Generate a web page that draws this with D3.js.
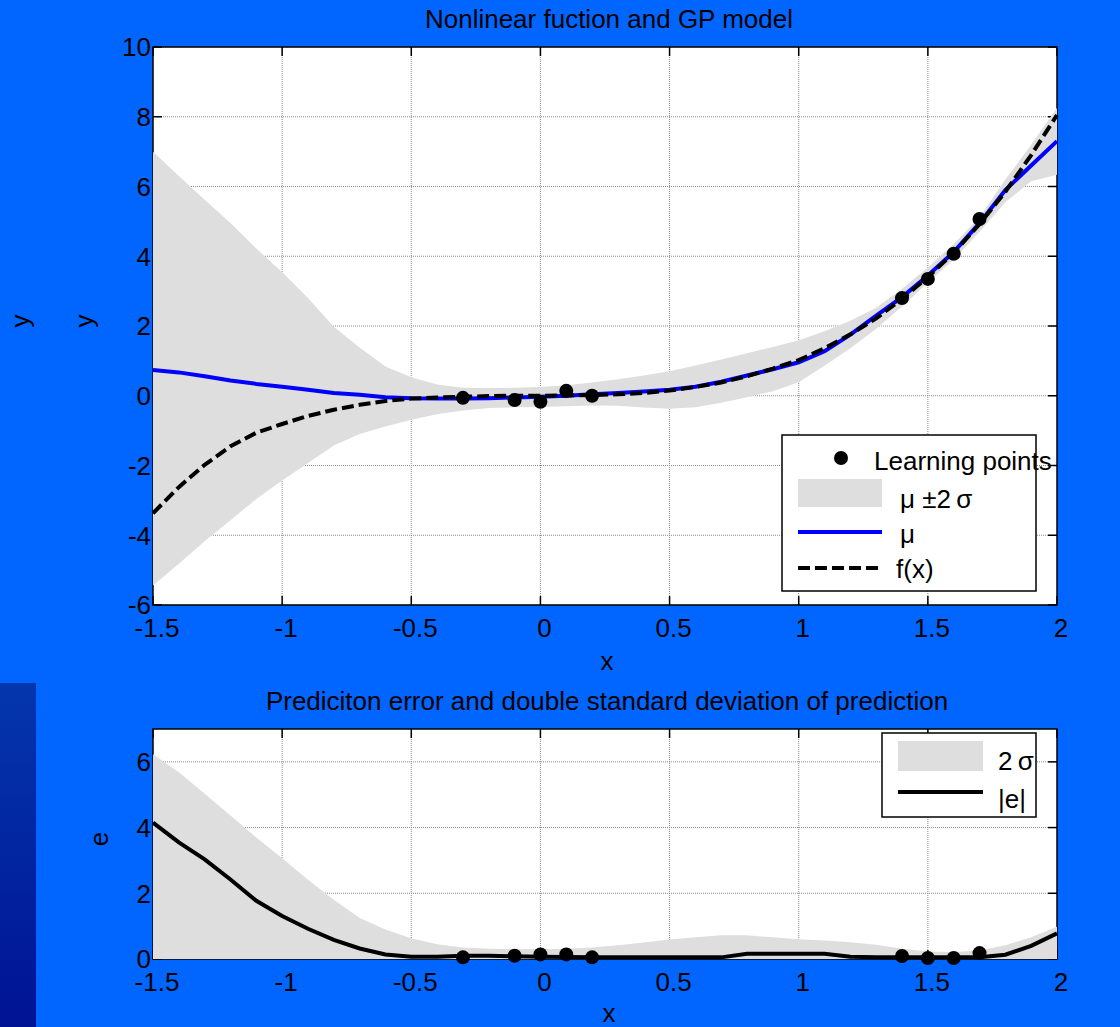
<!DOCTYPE html>
<html>
<head>
<meta charset="utf-8">
<script src="https://cdn.jsdelivr.net/npm/d3@7"></script>
<style>
  html, body { margin: 0; padding: 0; background: #0066ff; }
  svg { display: block; }
  text { font-family: "Liberation Sans", Arial, sans-serif; fill: #000; }
</style>
</head>
<body>
<svg id="fig" width="1120" height="1027"></svg>
<script>
// sample positions along x
var xGrid = [-1.5, -1.4, -1.3, -1.2, -1.1, -1.0, -0.9, -0.8, -0.7, -0.6, -0.5, -0.4,
  -0.3, -0.2, -0.1, 0.0, 0.1, 0.2, 0.3, 0.4, 0.5, 0.6, 0.7, 0.8, 0.9, 1.0, 1.1, 1.2,
  1.3, 1.4, 1.5, 1.6, 1.7, 1.8, 1.9, 2.0];

// top plot: GP mean, band edges and true function
var mu = [0.74, 0.67, 0.56, 0.44, 0.34, 0.26, 0.17, 0.08, 0.03, -0.04, -0.07, -0.08,
  -0.08, -0.07, -0.05, -0.03, 0.00, 0.04, 0.08, 0.12, 0.17, 0.26, 0.40, 0.58, 0.76, 0.96, 1.28, 1.75,
  2.30, 2.83, 3.45, 4.12, 4.95, 5.90, 6.60, 7.30];
var upper = [7.00, 6.30, 5.62, 4.95, 4.22, 3.54, 2.80, 1.98, 1.38, 0.84, 0.53, 0.32,
  0.23, 0.22, 0.23, 0.25, 0.30, 0.38, 0.47, 0.58, 0.70, 0.87, 1.04, 1.22, 1.40, 1.59, 1.85, 2.15,
  2.52, 3.07, 3.68, 4.35, 5.12, 6.20, 7.20, 8.26];
var lower = [-5.44, -4.82, -4.17, -3.57, -2.96, -2.43, -1.93, -1.43, -1.10, -0.88, -0.69, -0.53,
  -0.42, -0.35, -0.33, -0.32, -0.30, -0.28, -0.29, -0.34, -0.37, -0.33, -0.20, -0.04, 0.13, 0.39, 0.86, 1.36,
  1.92, 2.56, 3.25, 3.90, 4.70, 5.55, 6.15, 6.34];
var fx = [-3.37, -2.62, -1.98, -1.45, -1.06, -0.81, -0.58, -0.40, -0.26, -0.15, -0.08, -0.05,
  -0.03, -0.01, 0.00, 0.00, 0.01, 0.02, 0.04, 0.08, 0.15, 0.25, 0.38, 0.56, 0.78, 1.02, 1.36, 1.76,
  2.22, 2.78, 3.40, 4.10, 4.92, 5.85, 6.90, 8.05];

// bottom plot: double std and absolute error
var sigma2 = [6.23, 5.68, 5.03, 4.37, 3.70, 3.07, 2.41, 1.80, 1.25, 0.90, 0.63, 0.45,
  0.35, 0.31, 0.30, 0.30, 0.31, 0.35, 0.42, 0.50, 0.59, 0.66, 0.72, 0.72, 0.66, 0.60, 0.56, 0.51,
  0.43, 0.31, 0.23, 0.21, 0.26, 0.42, 0.66, 0.98];
var absErr = [4.15, 3.55, 3.03, 2.42, 1.77, 1.31, 0.92, 0.58, 0.32, 0.14, 0.07, 0.07,
  0.10, 0.10, 0.08, 0.07, 0.06, 0.05, 0.05, 0.05, 0.05, 0.05, 0.05, 0.16, 0.16, 0.16, 0.16, 0.07,
  0.05, 0.05, 0.05, 0.05, 0.05, 0.13, 0.40, 0.78];

// learning points
var ptX = [-0.30, -0.10, 0.00, 0.10, 0.20, 1.40, 1.50, 1.60, 1.70];
var ptY = [-0.06, -0.12, -0.17, 0.14, 0.00, 2.80, 3.35, 4.07, 5.07];
var ptE = [0.05, 0.10, 0.14, 0.14, 0.05, 0.09, 0.03, 0.03, 0.18];

var xTicks = [-1.5, -1, -0.5, 0, 0.5, 1, 1.5, 2];
var yTicksTop = [-6, -4, -2, 0, 2, 4, 6, 8, 10];
var yTicksBottom = [0, 2, 4, 6];

var fontSize = 26;
var fill = "#dedede";

var params = {
  top:    { x: 153, y: 47,  width: 904, height: 558, domain: [-6, 10] },
  bottom: { x: 153, y: 729, width: 904, height: 230, domain: [0, 7] }
};

var svg = d3.select("#fig");

function translate(x, y) { return "translate(" + x + "," + y + ")"; }

// dark stripe at the lower left of the figure
var defs = svg.append("defs");
var grad = defs.append("linearGradient").attr("id", "stripe")
  .attr("x1", 0).attr("y1", 0).attr("x2", 0).attr("y2", 1);
grad.append("stop").attr("offset", 0).attr("stop-color", "#0436ae");
grad.append("stop").attr("offset", 1).attr("stop-color", "#001394");
svg.append("rect").attr("x", 0).attr("y", 683).attr("width", 36).attr("height", 344)
  .attr("fill", "url(#stripe)");

function makeAxes(p, yTicks) {
  var sx = d3.scaleLinear().domain([-1.5, 2]).range([0, p.width]);
  var sy = d3.scaleLinear().domain(p.domain).range([p.height, 0]);
  var g = svg.append("g").attr("transform", translate(p.x, p.y));

  g.append("rect").attr("width", p.width).attr("height", p.height).attr("fill", "#fff");

  // grid
  var grid = g.append("g").attr("stroke", "#8a8a8a").attr("stroke-width", 1)
    .attr("stroke-dasharray", "1,1");
  grid.selectAll("line.gx").data(xTicks.slice(1, -1)).enter().append("line")
    .attr("x1", function(d) { return sx(d); }).attr("x2", function(d) { return sx(d); })
    .attr("y1", 0).attr("y2", p.height);
  grid.selectAll("line.gy").data(yTicks).enter().append("line")
    .attr("y1", function(d) { return sy(d); }).attr("y2", function(d) { return sy(d); })
    .attr("x1", 0).attr("x2", p.width);

  // box and inner ticks
  var box = g.append("g").attr("stroke", "#000").attr("stroke-width", 1.5);
  box.append("rect").attr("width", p.width).attr("height", p.height).attr("fill", "none");
  xTicks.forEach(function(d) {
    box.append("line").attr("x1", sx(d)).attr("x2", sx(d)).attr("y1", 0).attr("y2", 9);
    box.append("line").attr("x1", sx(d)).attr("x2", sx(d)).attr("y1", p.height).attr("y2", p.height - 9);
  });
  yTicks.forEach(function(d) {
    box.append("line").attr("y1", sy(d)).attr("y2", sy(d)).attr("x1", 0).attr("x2", 9);
    box.append("line").attr("y1", sy(d)).attr("y2", sy(d)).attr("x1", p.width).attr("x2", p.width - 9);
  });

  // tick labels
  g.selectAll("text.xt").data(xTicks).enter().append("text")
    .attr("x", function(d) { return sx(d) + 4; })
    .attr("y", p.height + 32)
    .attr("text-anchor", "middle")
    .style("font-size", fontSize + "px")
    .text(function(d) { return d; });
  g.selectAll("text.yt").data(yTicks).enter().append("text")
    .attr("x", -2)
    .attr("y", function(d) { return sy(d); })
    .attr("dy", "0.36em")
    .attr("text-anchor", "end")
    .style("font-size", fontSize + "px")
    .text(function(d) { return d; });

  return { g: g, x: sx, y: sy };
}

// ---------- top plot ----------
var ax1 = makeAxes(params.top, yTicksTop);
var topData = xGrid.map(function(x, i) {
  return { x: x, mu: mu[i], hi: upper[i], lo: lower[i], f: fx[i] };
});

ax1.g.append("path").datum(topData)
  .attr("fill", fill)
  .attr("d", d3.area()
    .x(function(d) { return ax1.x(d.x); })
    .y0(function(d) { return ax1.y(d.lo); })
    .y1(function(d) { return ax1.y(d.hi); }));

ax1.g.append("path").datum(topData)
  .attr("fill", "none").attr("stroke", "#0000ff").attr("stroke-width", 4)
  .attr("d", d3.line().x(function(d) { return ax1.x(d.x); }).y(function(d) { return ax1.y(d.mu); }));

ax1.g.append("path").datum(topData)
  .attr("fill", "none").attr("stroke", "#000").attr("stroke-width", 4)
  .attr("stroke-dasharray", "12,5")
  .attr("d", d3.line().x(function(d) { return ax1.x(d.x); }).y(function(d) { return ax1.y(d.f); }));

ax1.g.selectAll("circle.pt").data(ptX).enter().append("circle")
  .attr("cx", function(d) { return ax1.x(d); })
  .attr("cy", function(d, i) { return ax1.y(ptY[i]); })
  .attr("r", 7).attr("fill", "#000");

// legend of the top plot
var lg = svg.append("g").attr("transform", translate(782, 435));
lg.append("rect").attr("width", 254).attr("height", 156)
  .attr("fill", "#fff").attr("stroke", "#000").attr("stroke-width", 1.5);
lg.append("circle").attr("cx", 59).attr("cy", 23).attr("r", 7).attr("fill", "#000");
lg.append("text").attr("x", 92).attr("y", 35).style("font-size", fontSize + "px").text("Learning points");
lg.append("rect").attr("x", 16).attr("y", 44).attr("width", 84).attr("height", 28).attr("fill", fill);
lg.append("text").attr("x", 118).attr("y", 73).style("font-size", fontSize + "px").text("μ ±2\u2009σ");
lg.append("line").attr("x1", 16).attr("x2", 100).attr("y1", 97).attr("y2", 97)
  .attr("stroke", "#0000ff").attr("stroke-width", 4);
lg.append("text").attr("x", 118).attr("y", 108).style("font-size", fontSize + "px").text("μ");
lg.append("line").attr("x1", 16).attr("x2", 100).attr("y1", 133).attr("y2", 133)
  .attr("stroke", "#000").attr("stroke-width", 4).attr("stroke-dasharray", "12,5");
lg.append("text").attr("x", 114).attr("y", 143).style("font-size", fontSize + "px").text("f(x)");

// ---------- bottom plot ----------
var ax2 = makeAxes(params.bottom, yTicksBottom);
var botData = xGrid.map(function(x, i) { return { x: x, s: sigma2[i], e: absErr[i] }; });

ax2.g.append("path").datum(botData)
  .attr("fill", fill)
  .attr("d", d3.area()
    .x(function(d) { return ax2.x(d.x); })
    .y0(ax2.y(0))
    .y1(function(d) { return ax2.y(d.s); }));

ax2.g.append("path").datum(botData)
  .attr("fill", "none").attr("stroke", "#000").attr("stroke-width", 4)
  .attr("d", d3.line().x(function(d) { return ax2.x(d.x); }).y(function(d) { return ax2.y(d.e); }));

ax2.g.selectAll("circle.pt").data(ptX).enter().append("circle")
  .attr("cx", function(d) { return ax2.x(d); })
  .attr("cy", function(d, i) { return ax2.y(ptE[i]); })
  .attr("r", 7).attr("fill", "#000");

// legend of the bottom plot
var lg2 = svg.append("g").attr("transform", translate(882, 733));
lg2.append("rect").attr("width", 154).attr("height", 84)
  .attr("fill", "#fff").attr("stroke", "#000").attr("stroke-width", 1.5);
lg2.append("rect").attr("x", 16).attr("y", 8).attr("width", 85).attr("height", 30).attr("fill", fill);
lg2.append("text").attr("x", 116).attr("y", 37).style("font-size", fontSize + "px").text("2\u2009σ");
lg2.append("line").attr("x1", 16).attr("x2", 101).attr("y1", 59).attr("y2", 59)
  .attr("stroke", "#000").attr("stroke-width", 4);
lg2.append("text").attr("x", 116).attr("y", 75).style("font-size", fontSize + "px").text("|e|");

// ---------- titles and axis labels ----------
function label(x, y, txt, rotate) {
  var t = svg.append("text")
    .attr("text-anchor", "middle")
    .style("font-size", fontSize + "px")
    .text(txt);
  if (rotate) t.attr("transform", translate(x, y) + " rotate(-90)");
  else t.attr("x", x).attr("y", y);
  return t;
}

label(609, 28, "Nonlinear fuction and GP model");
label(607, 710, "Prediciton error and double standard deviation of prediction");
label(607, 670, "x");
label(609, 1022, "x");
label(29, 321, "y", true);
label(93, 321, "y", true);
label(108, 839, "e", true);
</script>
</body>
</html>
